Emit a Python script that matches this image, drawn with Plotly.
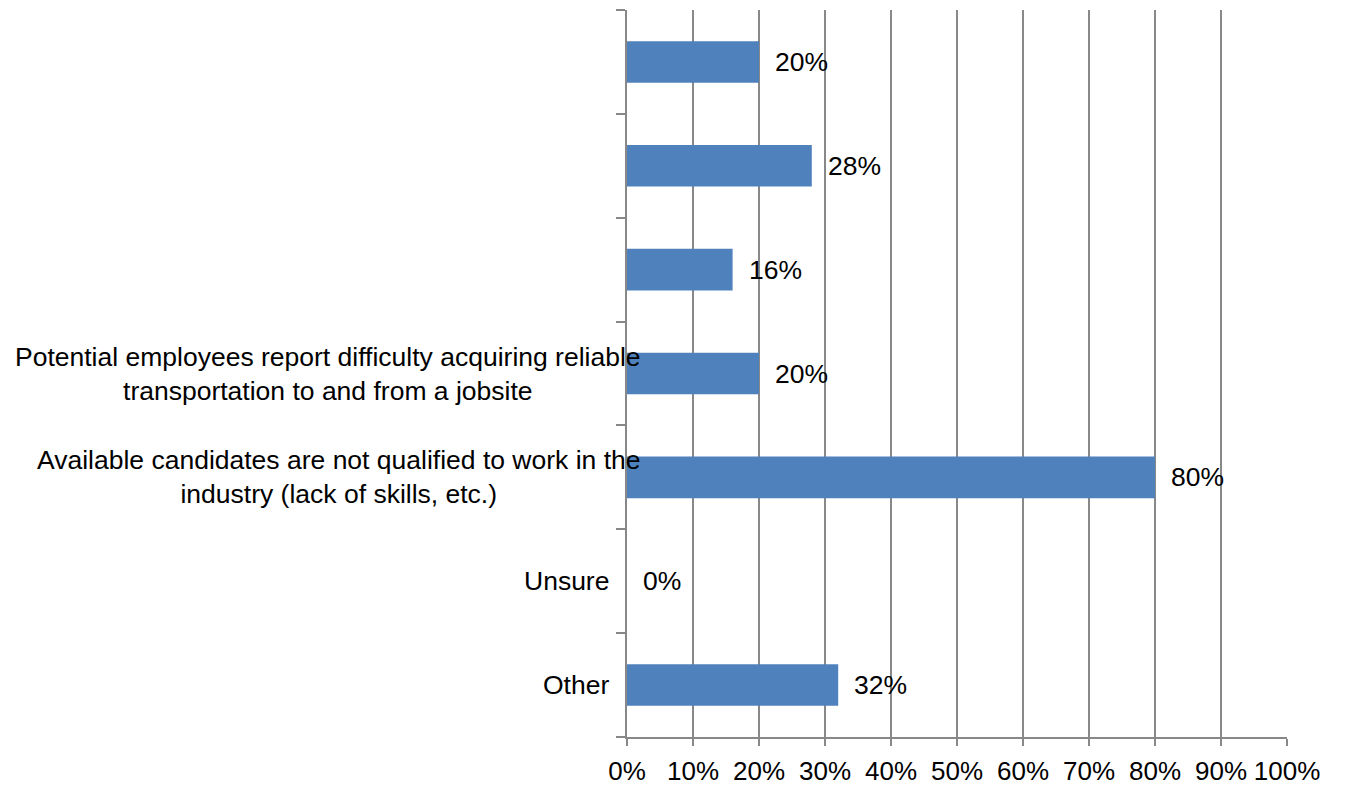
import plotly.graph_objects as go

# ---- data ----
categories = [
    "",
    "",
    "",
    "Potential employees report difficulty acquiring reliable<br>transportation to and from a jobsite",
    "Available candidates are not qualified to work in the<br>industry (lack of skills, etc.)",
    "Unsure",
    "Other",
]
values = [20, 28, 16, 20, 80, 0, 32]
x_tickvals = [0, 10, 20, 30, 40, 50, 60, 70, 80, 90, 100]
x_ticktext = ["0%", "10%", "20%", "30%", "40%", "50%", "60%", "70%", "80%", "90%", "100%"]

positions = list(range(len(categories)))
FONT = "Liberation Sans, Arial, sans-serif"
BAR = "#4F81BD"
GRID = "#888888"
TXT = 26.5

fig = go.Figure()
fig.add_trace(go.Bar(
    x=values, y=positions, orientation="h",
    marker=dict(color=BAR, line=dict(width=0)),
    width=0.4, hoverinfo="skip",
))

annotations = []
for pos, v in zip(positions, values):
    annotations.append(dict(
        x=v, y=pos, xref="x", yref="y", text=f"{v}%", showarrow=False,
        xanchor="left", yanchor="middle", xshift=14,
        font=dict(family=FONT, size=TXT, color="#000000"),
    ))
for pos, lab in zip(positions, categories):
    if not lab:
        continue
    shift = 16 if "<br>" in lab else -16
    annotations.append(dict(
        x=0, y=pos, xref="x", yref="y", text=lab, showarrow=False,
        xanchor="right", yanchor="middle", align="center", xshift=shift,
        font=dict(family=FONT, size=TXT, color="#000000"),
    ))

fig.update_layout(
    width=1346, height=785,
    margin=dict(l=619, r=67, t=2, b=56),
    paper_bgcolor="white", plot_bgcolor="white",
    showlegend=False,
    annotations=annotations,
    font=dict(family=FONT, size=TXT, color="#000000"),
    xaxis=dict(
        range=[0, 100], tickvals=x_tickvals, ticktext=x_ticktext,
        showgrid=True, gridcolor=GRID, gridwidth=2,
        showline=True, linecolor=GRID, linewidth=2,
        ticks="outside", ticklen=7, tickwidth=2, tickcolor=GRID,
        ticklabelstandoff=3,
        tickfont=dict(family=FONT, size=26, color="#000000"),
        zeroline=False, fixedrange=True,
    ),
    yaxis=dict(
        range=[len(categories) - 0.5, -0.5],
        tickvals=[p - 0.5 for p in positions] + [len(categories) - 0.5],
        showticklabels=False, showgrid=False,
        showline=True, linecolor=GRID, linewidth=2,
        ticks="outside", ticklen=9, tickwidth=2, tickcolor=GRID,
        zeroline=False, fixedrange=True,
    ),
)

fig.write_html("out.html")
